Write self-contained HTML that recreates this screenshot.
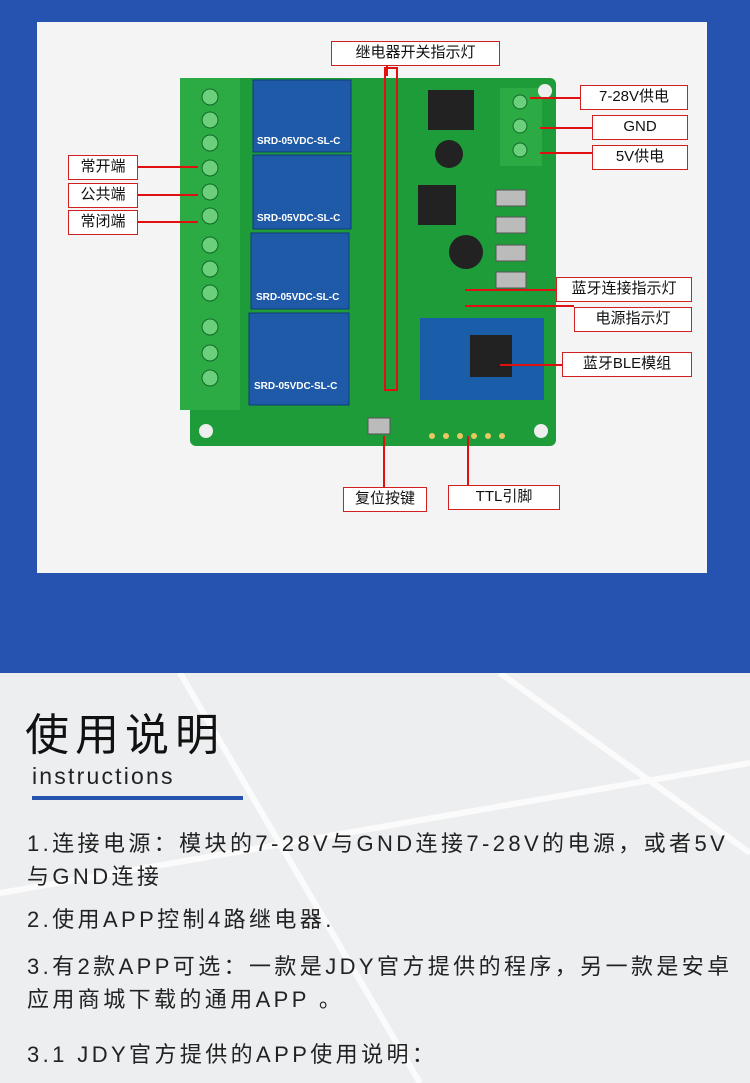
<!DOCTYPE html>
<html><head><meta charset="utf-8"><style>
*{margin:0;padding:0;box-sizing:border-box}
body{width:750px;height:1083px;position:relative;overflow:hidden;font-family:"Liberation Sans","Noto Sans CJK SC",sans-serif;background:#eef0f2}
.top{position:absolute;left:0;top:0;width:750px;height:673px;background:#2753b0}
.panel{position:absolute;left:37px;top:22px;width:670px;height:551px;background:#f4f4f4}
.lb{position:absolute;border:1.5px solid #d02020;background:#fff;font-size:15px;color:#111;text-align:center;line-height:22px;height:25px}
.ln{position:absolute;background:#e01010}
.bottom{position:absolute;left:0;top:673px;width:750px;height:410px;background:#eceef0;overflow:hidden}
.t{position:absolute;left:27px;font-size:22px;color:#222;letter-spacing:3.4px;white-space:nowrap}
</style></head><body>
<div class="top"></div>
<div class="panel"></div>
<svg style="position:absolute;left:0;top:0" width="750" height="673">
<rect x="190" y="78" width="366" height="368" rx="6" fill="#1f9c3a"/>
<rect x="180" y="78" width="60" height="332" fill="#2cab45"/>
<g fill="#6ccf7c" stroke="#0d6a25"><circle cx="210" cy="97" r="8"/><circle cx="210" cy="120" r="8"/><circle cx="210" cy="143" r="8"/><circle cx="210" cy="168" r="8"/><circle cx="210" cy="192" r="8"/><circle cx="210" cy="216" r="8"/><circle cx="210" cy="245" r="8"/><circle cx="210" cy="269" r="8"/><circle cx="210" cy="293" r="8"/><circle cx="210" cy="327" r="8"/><circle cx="210" cy="353" r="8"/><circle cx="210" cy="378" r="8"/></g>
<g fill="#1e5aa8" stroke="#0d3a7a"><rect x="253" y="80" width="98" height="72"/><rect x="253" y="155" width="98" height="74"/><rect x="251" y="233" width="98" height="76"/><rect x="249" y="313" width="100" height="92"/></g>
<g fill="#fff" font-size="10" font-weight="bold"><text x="257" y="144">SRD-05VDC-SL-C</text><text x="257" y="221">SRD-05VDC-SL-C</text><text x="256" y="300">SRD-05VDC-SL-C</text><text x="254" y="389">SRD-05VDC-SL-C</text></g>
<rect x="500" y="88" width="42" height="78" fill="#2cab45"/>
<g fill="#6ccf7c" stroke="#0d6a25"><circle cx="520" cy="102" r="7"/><circle cx="520" cy="126" r="7"/><circle cx="520" cy="150" r="7"/></g>
<rect x="428" y="90" width="46" height="40" fill="#222"/>
<rect x="418" y="185" width="38" height="40" fill="#222"/>
<circle cx="449" cy="154" r="14" fill="#222"/><circle cx="466" cy="252" r="17" fill="#222"/>
<g fill="#bbb" stroke="#555"><rect x="496" y="190" width="30" height="16"/><rect x="496" y="217" width="30" height="16"/><rect x="496" y="245" width="30" height="16"/><rect x="496" y="272" width="30" height="16"/><rect x="368" y="418" width="22" height="16"/></g>
<rect x="420" y="318" width="124" height="82" fill="#1a5da8"/>
<rect x="470" y="335" width="42" height="42" fill="#222"/>
<g fill="#eee"><circle cx="206" cy="431" r="7"/><circle cx="541" cy="431" r="7"/><circle cx="545" cy="91" r="7"/></g>
<g fill="#e8c860"><circle cx="432" cy="436" r="3"/><circle cx="446" cy="436" r="3"/><circle cx="460" cy="436" r="3"/><circle cx="474" cy="436" r="3"/><circle cx="488" cy="436" r="3"/><circle cx="502" cy="436" r="3"/></g>
<rect x="385" y="68" width="12" height="322" fill="none" stroke="#e01010" stroke-width="2"/>
</svg>
<div class="lb" style="left:331px;top:41px;width:169px">继电器开关指示灯</div>
<div class="ln" style="left:386px;top:66px;width:2px;height:10px"></div>
<div class="lb" style="left:580px;top:85px;width:108px">7-28V供电</div>
<div class="lb" style="left:592px;top:115px;width:96px">GND</div>
<div class="lb" style="left:592px;top:145px;width:96px">5V供电</div>
<div class="ln" style="left:530px;top:97px;width:50px;height:2px"></div>
<div class="ln" style="left:540px;top:127px;width:52px;height:2px"></div>
<div class="ln" style="left:540px;top:152px;width:52px;height:2px"></div>
<div class="lb" style="left:68px;top:155px;width:70px">常开端</div>
<div class="lb" style="left:68px;top:183px;width:70px">公共端</div>
<div class="lb" style="left:68px;top:210px;width:70px">常闭端</div>
<div class="ln" style="left:138px;top:166px;width:60px;height:2px"></div>
<div class="ln" style="left:138px;top:194px;width:60px;height:2px"></div>
<div class="ln" style="left:138px;top:221px;width:60px;height:2px"></div>
<div class="lb" style="left:556px;top:277px;width:136px">蓝牙连接指示灯</div>
<div class="lb" style="left:574px;top:307px;width:118px">电源指示灯</div>
<div class="lb" style="left:562px;top:352px;width:130px">蓝牙BLE模组</div>
<div class="ln" style="left:465px;top:289px;width:91px;height:2px"></div>
<div class="ln" style="left:465px;top:305px;width:109px;height:2px"></div>
<div class="ln" style="left:500px;top:364px;width:62px;height:2px"></div>
<div class="lb" style="left:343px;top:487px;width:84px">复位按键</div>
<div class="lb" style="left:448px;top:485px;width:112px">TTL引脚</div>
<div class="ln" style="left:383px;top:436px;width:2px;height:51px"></div>
<div class="ln" style="left:467px;top:436px;width:2px;height:49px"></div>
<div class="bottom">
<svg width="750" height="410" style="position:absolute;left:0;top:0"><g stroke="#fff" stroke-width="6" opacity=".8"><line x1="180" y1="0" x2="420" y2="410"/><line x1="500" y1="0" x2="750" y2="180"/><line x1="0" y1="220" x2="750" y2="90"/></g></svg>
<div style="position:absolute;left:25px;top:26px;font-size:44px;color:#111;letter-spacing:6px">使用说明</div>
<div style="position:absolute;left:32px;top:90px;font-size:23px;color:#222;letter-spacing:2.2px">instructions</div>
<div style="position:absolute;left:32px;top:123px;width:211px;height:4px;background:#2753b0"></div>
<div class="t" style="top:154px;line-height:33px">1.连接电源：模块的7-28V与GND连接7-28V的电源，或者5V<br>与GND连接</div>
<div class="t" style="top:229px">2.使用APP控制4路继电器.</div>
<div class="t" style="top:277px;line-height:33px">3.有2款APP可选：一款是JDY官方提供的程序，另一款是安卓<br>应用商城下载的通用APP 。</div>
<div class="t" style="top:364px">3.1 JDY官方提供的APP使用说明：</div>
</div>
</body></html>
